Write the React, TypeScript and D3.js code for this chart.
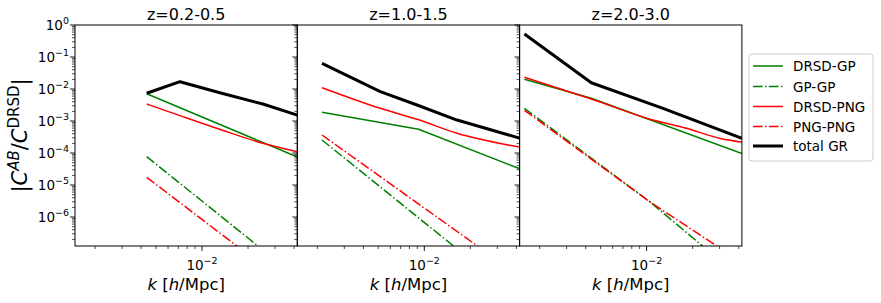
import React from "react";
import * as d3 from "d3";

// ---------- data ----------
const panelTitles = ["z=0.2-0.5", "z=1.0-1.5", "z=2.0-3.0"];
const seriesNames = ["DRSD-GP", "GP-GP", "DRSD-PNG", "PNG-PNG", "total GR"];

// panel 1: z = 0.2-0.5   ([k, |C^AB/C^DRSD|])
const z1_DRSD_GP = [[4.35e-3, 7.13e-3], [4.2e-2, 7.5e-5]];
const z1_GP_GP = [[4.35e-3, 7.7e-5], [2.28e-2, 1.33e-7], [4.2e-2, 1.3e-8]];
const z1_DRSD_PNG = [[4.35e-3, 3.4e-3], [7.18e-3, 1.47e-3], [1.345e-2, 5.24e-4], [2.5e-2, 2.01e-4], [4.2e-2, 1.09e-4]];
const z1_PNG_PNG = [[4.35e-3, 1.74e-5], [1.69e-2, 1.24e-7], [4.2e-2, 4.5e-9]];
const z1_total = [[4.35e-3, 7.35e-3], [7.18e-3, 1.69e-2], [1.345e-2, 7.35e-3], [2.5e-2, 3.4e-3], [4.2e-2, 1.52e-3]];

// panel 2: z = 1.0-1.5
const z2_DRSD_GP = [[2.145e-3, 1.87e-3], [9.18e-3, 5.51e-4], [4.24e-2, 3.16e-5]];
const z2_GP_GP = [[2.145e-3, 2.55e-4], [1.554e-2, 1.24e-7], [4.24e-2, 2.5e-9]];
const z2_DRSD_PNG = [[2.145e-3, 1.1e-2], [5.16e-3, 2.49e-3], [8.96e-3, 1.13e-3], [1.636e-2, 4.13e-4], [4.24e-2, 1.51e-4]];
const z2_PNG_PNG = [[2.145e-3, 3.65e-4], [2.1e-2, 1.51e-7], [4.24e-2, 1.35e-8]];
const z2_total = [[2.145e-3, 6.35e-2], [5.16e-3, 8.24e-3], [8.96e-3, 3.16e-3], [1.636e-2, 1.07e-3], [4.24e-2, 2.88e-4]];

// panel 3: z = 2.0-3.0
const z3_DRSD_GP = [[1.59e-3, 2.01e-2], [4.35e-3, 5.12e-3], [4.2e-2, 9.6e-5]];
const z3_GP_GP = [[1.59e-3, 2.49e-3], [1.046e-2, 3.05e-6], [2.39e-2, 1.1e-7], [4.2e-2, 1.15e-8]];
const z3_DRSD_PNG = [[1.59e-3, 2.32e-2], [4.35e-3, 4.87e-3], [1.1e-2, 1.07e-3], [1.82e-2, 5.91e-4], [3.0e-2, 2.88e-4], [4.2e-2, 2.16e-4]];
const z3_PNG_PNG = [[1.59e-3, 2.16e-3], [1.046e-2, 3.01e-6], [2.92e-2, 1.18e-7], [4.2e-2, 3.8e-8]];
const z3_total = [[1.59e-3, 0.524], [4.35e-3, 1.57e-2], [1.28e-2, 2.49e-3], [4.2e-2, 2.88e-4]];

const panelData = [
  [z1_DRSD_GP, z1_GP_GP, z1_DRSD_PNG, z1_PNG_PNG, z1_total],
  [z2_DRSD_GP, z2_GP_GP, z2_DRSD_PNG, z2_PNG_PNG, z2_total],
  [z3_DRSD_GP, z3_GP_GP, z3_DRSD_PNG, z3_PNG_PNG, z3_total],
];

const yTickExps = [0, -1, -2, -3, -4, -5, -6];
const xTickExps = [-2];

// ---------- styles ----------
const seriesColors = ["#008000", "#008000", "#ff0000", "#ff0000", "#000000"];
const seriesWidths = [1.5, 1.5, 1.5, 1.5, 3];
const seriesDash = [null, "9.6,2.4,1.5,2.4", null, "9.6,2.4,1.5,2.4", null];
const seriesSmooth = [false, false, true, false, false];

const W = 881;
const H = 303;
const left0 = 75;
const top0 = 25;
const panelW = 222.3;
const panelH = 221;
const FONT = "DejaVu Sans, sans-serif";

const xDomain = [Math.pow(10, -2 - 127 / 153), Math.pow(10, -2 + 95.3 / 153)];
const yDomain = [Math.pow(10, -221 / 32), 1];

function Sup({ base, exp, x, y, anchor, size, supSize }) {
  return (
    <text x={x} y={y} textAnchor={anchor} fontSize={size} fontFamily={FONT} fill="#000">
      {base}
      <tspan dy={-size * 0.45} fontSize={supSize}>{exp}</tspan>
    </text>
  );
}

function Panel({ idx }) {
  const x0 = left0 + idx * panelW;
  const xs = d3.scaleLog().domain(xDomain).range([x0, x0 + panelW]);
  const ys = d3.scaleLog().domain(yDomain).range([top0 + panelH, top0]);
  const clipId = "clip" + idx;

  const yMinor = [];
  for (let e = -7; e < 0; e++) {
    for (let m = 2; m <= 9; m++) {
      const v = m * Math.pow(10, e);
      if (v >= yDomain[0] && v <= yDomain[1]) yMinor.push(v);
    }
  }
  const xMinor = [];
  for (let e = -3; e <= -2; e++) {
    for (let m = 2; m <= 9; m++) {
      const v = m * Math.pow(10, e);
      if (v >= xDomain[0] && v <= xDomain[1]) xMinor.push(v);
    }
  }
  const yb = top0 + panelH;

  return (
    <g>
      <defs>
        <clipPath id={clipId}>
          <rect x={x0} y={top0} width={panelW} height={panelH} />
        </clipPath>
      </defs>
      <g clipPath={`url(#${clipId})`}>
        {panelData[idx].map((s, i) => {
          const line = d3
            .line()
            .x((d) => xs(d[0]))
            .y((d) => ys(d[1]))
            .curve(seriesSmooth[i] ? d3.curveMonotoneX : d3.curveLinear);
          return (
            <path
              key={i}
              d={line(s)}
              fill="none"
              stroke={seriesColors[i]}
              strokeWidth={seriesWidths[i]}
              strokeDasharray={seriesDash[i] || undefined}
              strokeLinejoin="round"
            />
          );
        })}
      </g>
      <rect x={x0} y={top0} width={panelW} height={panelH} fill="none" stroke="#000" strokeWidth={1} />
      {yTickExps.map((e) => (
        <line key={"ym" + e} x1={x0} x2={x0 - 5} y1={ys(Math.pow(10, e))} y2={ys(Math.pow(10, e))} stroke="#000" strokeWidth={0.9} />
      ))}
      {yMinor.map((v, i) => (
        <line key={"yn" + i} x1={x0} x2={x0 - 3} y1={ys(v)} y2={ys(v)} stroke="#000" strokeWidth={0.7} />
      ))}
      {xTickExps.map((e) => (
        <line key={"xm" + e} x1={xs(Math.pow(10, e))} x2={xs(Math.pow(10, e))} y1={yb} y2={yb + 5} stroke="#000" strokeWidth={0.9} />
      ))}
      {xMinor.map((v, i) => (
        <line key={"xn" + i} x1={xs(v)} x2={xs(v)} y1={yb} y2={yb + 3} stroke="#000" strokeWidth={0.7} />
      ))}
      {xTickExps.map((e) => (
        <Sup key={"xl" + e} base="10" exp={"\u2212" + Math.abs(e)} x={xs(Math.pow(10, e))} y={270} anchor="middle" size={13.5} supSize={9.5} />
      ))}
      {idx === 0 &&
        yTickExps.map((e) => (
          <Sup key={"yl" + e} base="10" exp={e === 0 ? "0" : "\u2212" + Math.abs(e)} x={69} y={ys(Math.pow(10, e)) + 5} anchor="end" size={13.5} supSize={9.5} />
        ))}
      <text x={x0 + panelW / 2} y={20} textAnchor="middle" fontSize={16} fontFamily={FONT}>
        {panelTitles[idx]}
      </text>
      <text x={x0 + panelW / 2} y={290} textAnchor="middle" fontSize={16.5} fontFamily={FONT}>
        <tspan fontStyle="italic">k</tspan>
        {" ["}
        <tspan fontStyle="italic">h</tspan>
        {"/Mpc]"}
      </text>
    </g>
  );
}

function Legend() {
  const lx = 749, ly = 54, lw = 124, lh = 107;
  const rows = [66, 86.5, 106.5, 126.5, 146];
  return (
    <g>
      <rect x={lx} y={ly} width={lw} height={lh} rx={3} fill="#fff" stroke="#cccccc" strokeWidth={1} />
      {seriesNames.map((n, i) => (
        <g key={n}>
          <line x1={753} x2={783} y1={rows[i]} y2={rows[i]} stroke={seriesColors[i]} strokeWidth={seriesWidths[i]} strokeDasharray={seriesDash[i] || undefined} />
          <text x={793} y={rows[i] + 5} fontSize={13.5} fontFamily={FONT}>{n}</text>
        </g>
      ))}
    </g>
  );
}

export default function App() {
  return (
    <svg width={W} height={H} style={{ position: "absolute", left: 0, top: 0, background: "#fff" }}>
      <rect x={0} y={0} width={W} height={H} fill="#fff" />
      {[0, 1, 2].map((i) => (
        <Panel key={i} idx={i} />
      ))}
      <text transform={`translate(27, ${top0 + panelH / 2}) rotate(-90)`} textAnchor="middle" fontSize={21} fontFamily={FONT}>
        |<tspan fontStyle="italic">C</tspan>
        <tspan dy={-8} fontSize={15} fontStyle="italic">AB</tspan>
        <tspan dy={8}>/</tspan>
        <tspan fontStyle="italic">C</tspan>
        <tspan dy={-8} fontSize={15}>DRSD</tspan>
        <tspan dy={8}>|</tspan>
      </text>
      <Legend />
    </svg>
  );
}
